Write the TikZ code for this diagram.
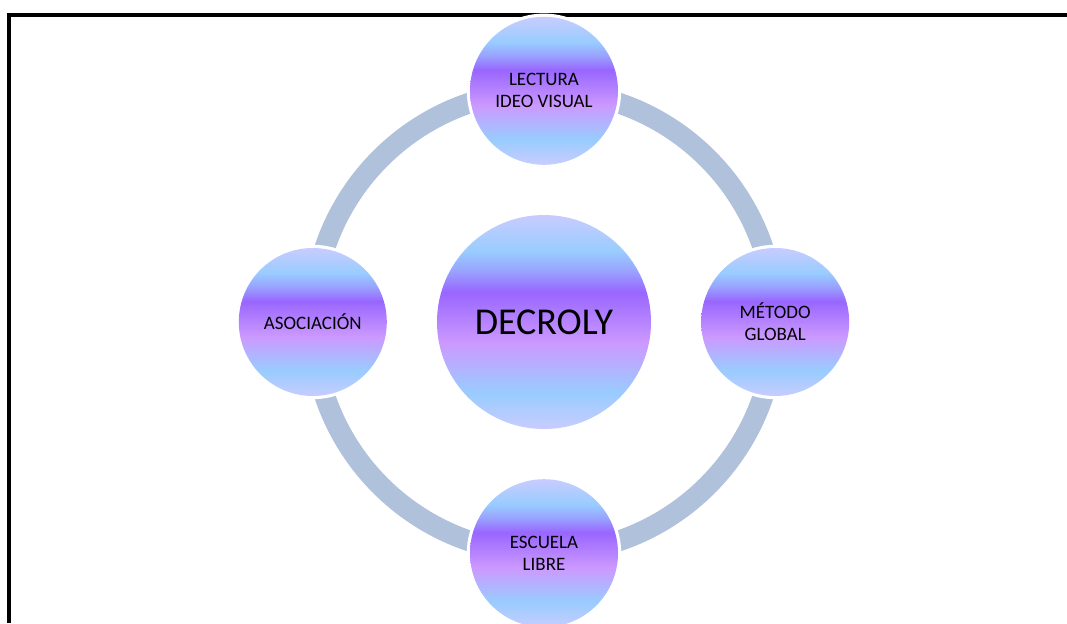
\documentclass[tikz,border=0pt]{standalone}
\usepackage{fontspec}
\setmainfont{Carlito}
\usepackage{tikz}
\usetikzlibrary{backgrounds,positioning}

\definecolor{lavend}{HTML}{C8CCFF}
\definecolor{skyb}{HTML}{99CCFF}
\definecolor{violt}{HTML}{9966FF}
\definecolor{lilac}{HTML}{CC99FF}
\definecolor{ringc}{HTML}{B0C2DB}
\pgfdeclareverticalshading{horizon}{100bp}{color(0bp)=(lavend); color(25bp)=(lavend);
  color(33.5bp)=(skyb); color(45bp)=(lilac); color(57bp)=(violt);
  color(62bp)=(skyb!60!violt); color(66.5bp)=(skyb); color(75bp)=(lavend); color(100bp)=(lavend)}

\begin{document}
\begin{tikzpicture}[
        node distance = 12.55mm,
    bola/.style = {circle, shading=horizon, inner sep=0pt, outer sep=0pt, align=center,
                   preaction={draw=white, line width=1.6mm}},
    small/.style = {bola, minimum size=37mm, font=\fontsize{13.5}{15.5}\selectfont},
    ring/.style = {draw=ringc, line width=5.2mm},
                            ]
    \useasboundingbox (-13.6,-7.525) rectangle (13.075,8.05);
    \node[bola, minimum size=53.5mm, font=\fontsize{27}{32}\selectfont] (ndec) {DECROLY};
    \node[small, above=of ndec] (nlec) {LECTURA\\IDEO VISUAL};
    \node[small, left=of ndec]  (naso) {ASOCIACIÓN};
    \node[small, below=of ndec] (nesc) {ESCUELA\\LIBRE};
    \node[small, right=of ndec] (nmet) {MÉTODO\\GLOBAL};
    %
    \begin{scope}[on background layer]
      \draw[line width=1mm] (-13.375,-7.525) |- (13.075,7.675);
      \foreach \a/\b in {nlec/naso, naso/nesc, nesc/nmet, nmet/nlec}
      {
        \draw[ring] (\a.center) to[bend right=45] (\b.center);
      }
    \end{scope}
    \end{tikzpicture}
\end{document}
